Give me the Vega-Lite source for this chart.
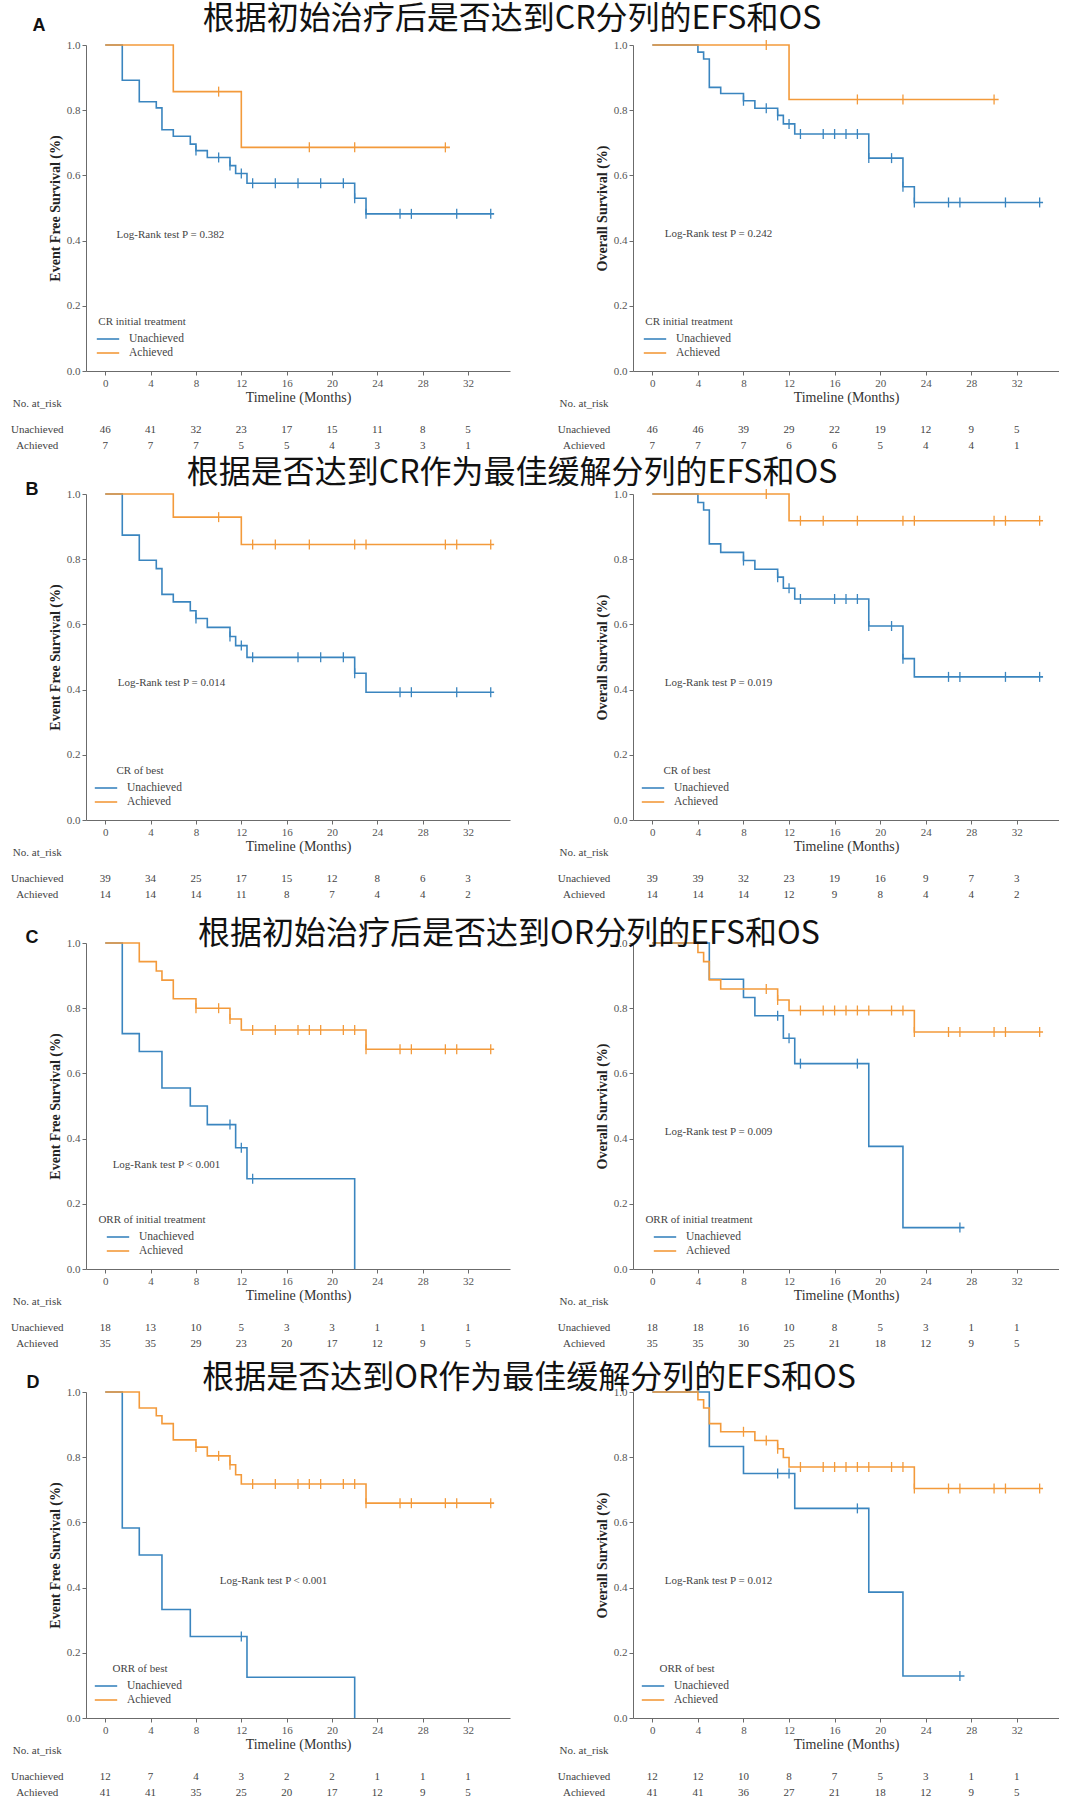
{
"$schema":"https://vega.github.io/schema/vega-lite/v6.json",
"padding":{"left":10,"top":2,"right":0,"bottom":0},
"bounds":"flush",
"columns":2,
"spacing":{"row":123,"column":123},
"resolve":{"scale":{"color":"independent","stroke":"independent","x":"independent","y":"independent"},"legend":{"color":"independent"}},
"config":{
 "view":{"stroke":null},
 "axis":{"domainColor":"#6b6b6b","tickColor":"#6b6b6b","tickSize":4,"labelFont":"Liberation Serif","labelFontSize":11,"labelColor":"#555","labelPadding":2,"grid":false,"titleFont":"Liberation Serif","titleColor":"#222"},
 "axisX":{"titleFontSize":14,"titleFontWeight":"normal","titlePadding":2,"titleColor":"#333"},
 "axisY":{"titleFontSize":14,"titleFontWeight":"bold","titlePadding":4},
 "legend":{"orient":"bottom-left","offset":12,"padding":0,"titleFont":"Liberation Serif","titleFontSize":11,"titleFontWeight":"normal","titleColor":"#444","titlePadding":4,"titleAnchor":"middle","labelFont":"Liberation Serif","labelFontSize":11.5,"labelColor":"#444","symbolStrokeWidth":1.6,"rowPadding":0},
 "text":{"font":"Liberation Serif","fontSize":11,"color":"#444","baseline":"middle","align":"center"}
},
"datasets":{
"km":[
{"p":"A1","g":"Unachieved","t":0,"s":1},{"p":"A1","g":"Unachieved","t":1.5,"s":0.892},{"p":"A1","g":"Unachieved","t":3,"s":0.826},{"p":"A1","g":"Unachieved","t":4.5,"s":0.807},{"p":"A1","g":"Unachieved","t":5,"s":0.74},{"p":"A1","g":"Unachieved","t":6,"s":0.72},{"p":"A1","g":"Unachieved","t":7.5,"s":0.696},{"p":"A1","g":"Unachieved","t":8,"s":0.676},{"p":"A1","g":"Unachieved","t":9,"s":0.655},{"p":"A1","g":"Unachieved","t":11,"s":0.63},{"p":"A1","g":"Unachieved","t":11.5,"s":0.606},{"p":"A1","g":"Unachieved","t":12.5,"s":0.576},{"p":"A1","g":"Unachieved","t":22,"s":0.53},{"p":"A1","g":"Unachieved","t":23,"s":0.482},{"p":"A1","g":"Unachieved","t":34.3,"s":0.482},
{"p":"A1","g":"Achieved","t":0,"s":1},{"p":"A1","g":"Achieved","t":6,"s":0.857},{"p":"A1","g":"Achieved","t":12,"s":0.686},{"p":"A1","g":"Achieved","t":30.4,"s":0.686},
{"p":"A2","g":"Unachieved","t":0,"s":1},{"p":"A2","g":"Unachieved","t":4,"s":0.978},{"p":"A2","g":"Unachieved","t":4.5,"s":0.957},{"p":"A2","g":"Unachieved","t":5,"s":0.87},{"p":"A2","g":"Unachieved","t":6,"s":0.851},{"p":"A2","g":"Unachieved","t":8,"s":0.829},{"p":"A2","g":"Unachieved","t":9,"s":0.806},{"p":"A2","g":"Unachieved","t":11,"s":0.784},{"p":"A2","g":"Unachieved","t":11.5,"s":0.758},{"p":"A2","g":"Unachieved","t":12.5,"s":0.727},{"p":"A2","g":"Unachieved","t":19,"s":0.653},{"p":"A2","g":"Unachieved","t":22,"s":0.565},{"p":"A2","g":"Unachieved","t":23,"s":0.517},{"p":"A2","g":"Unachieved","t":34.3,"s":0.517},
{"p":"A2","g":"Achieved","t":0,"s":1},{"p":"A2","g":"Achieved","t":12,"s":0.833},{"p":"A2","g":"Achieved","t":30.4,"s":0.833},
{"p":"B1","g":"Unachieved","t":0,"s":1},{"p":"B1","g":"Unachieved","t":1.5,"s":0.874},{"p":"B1","g":"Unachieved","t":3,"s":0.797},{"p":"B1","g":"Unachieved","t":4.5,"s":0.771},{"p":"B1","g":"Unachieved","t":5,"s":0.692},{"p":"B1","g":"Unachieved","t":6,"s":0.669},{"p":"B1","g":"Unachieved","t":7.5,"s":0.642},{"p":"B1","g":"Unachieved","t":8,"s":0.618},{"p":"B1","g":"Unachieved","t":9,"s":0.591},{"p":"B1","g":"Unachieved","t":11,"s":0.563},{"p":"B1","g":"Unachieved","t":11.5,"s":0.535},{"p":"B1","g":"Unachieved","t":12.5,"s":0.499},{"p":"B1","g":"Unachieved","t":22,"s":0.45},{"p":"B1","g":"Unachieved","t":23,"s":0.392},{"p":"B1","g":"Unachieved","t":34.3,"s":0.392},
{"p":"B1","g":"Achieved","t":0,"s":1},{"p":"B1","g":"Achieved","t":6,"s":0.929},{"p":"B1","g":"Achieved","t":12,"s":0.845},{"p":"B1","g":"Achieved","t":34.3,"s":0.845},
{"p":"B2","g":"Unachieved","t":0,"s":1},{"p":"B2","g":"Unachieved","t":4,"s":0.974},{"p":"B2","g":"Unachieved","t":4.5,"s":0.951},{"p":"B2","g":"Unachieved","t":5,"s":0.847},{"p":"B2","g":"Unachieved","t":6,"s":0.821},{"p":"B2","g":"Unachieved","t":8,"s":0.796},{"p":"B2","g":"Unachieved","t":9,"s":0.769},{"p":"B2","g":"Unachieved","t":11,"s":0.745},{"p":"B2","g":"Unachieved","t":11.5,"s":0.711},{"p":"B2","g":"Unachieved","t":12.5,"s":0.678},{"p":"B2","g":"Unachieved","t":19,"s":0.595},{"p":"B2","g":"Unachieved","t":22,"s":0.495},{"p":"B2","g":"Unachieved","t":23,"s":0.439},{"p":"B2","g":"Unachieved","t":34.3,"s":0.439},
{"p":"B2","g":"Achieved","t":0,"s":1},{"p":"B2","g":"Achieved","t":12,"s":0.918},{"p":"B2","g":"Achieved","t":34.3,"s":0.918},
{"p":"C1","g":"Unachieved","t":0,"s":1},{"p":"C1","g":"Unachieved","t":1.5,"s":0.722},{"p":"C1","g":"Unachieved","t":3,"s":0.667},{"p":"C1","g":"Unachieved","t":5,"s":0.555},{"p":"C1","g":"Unachieved","t":7.5,"s":0.5},{"p":"C1","g":"Unachieved","t":9,"s":0.443},{"p":"C1","g":"Unachieved","t":11.5,"s":0.372},{"p":"C1","g":"Unachieved","t":12.5,"s":0.277},{"p":"C1","g":"Unachieved","t":22,"s":0},
{"p":"C1","g":"Achieved","t":0,"s":1},{"p":"C1","g":"Achieved","t":3,"s":0.943},{"p":"C1","g":"Achieved","t":4.5,"s":0.914},{"p":"C1","g":"Achieved","t":5,"s":0.886},{"p":"C1","g":"Achieved","t":6,"s":0.829},{"p":"C1","g":"Achieved","t":8,"s":0.8},{"p":"C1","g":"Achieved","t":11,"s":0.767},{"p":"C1","g":"Achieved","t":12,"s":0.733},{"p":"C1","g":"Achieved","t":23,"s":0.674},{"p":"C1","g":"Achieved","t":34.3,"s":0.674},
{"p":"C2","g":"Unachieved","t":0,"s":1},{"p":"C2","g":"Unachieved","t":5,"s":0.889},{"p":"C2","g":"Unachieved","t":8,"s":0.833},{"p":"C2","g":"Unachieved","t":9,"s":0.777},{"p":"C2","g":"Unachieved","t":11.5,"s":0.708},{"p":"C2","g":"Unachieved","t":12.5,"s":0.63},{"p":"C2","g":"Unachieved","t":19,"s":0.376},{"p":"C2","g":"Unachieved","t":22,"s":0.127},{"p":"C2","g":"Unachieved","t":27.4,"s":0.127},
{"p":"C2","g":"Achieved","t":0,"s":1},{"p":"C2","g":"Achieved","t":4,"s":0.971},{"p":"C2","g":"Achieved","t":4.5,"s":0.943},{"p":"C2","g":"Achieved","t":5,"s":0.887},{"p":"C2","g":"Achieved","t":6,"s":0.859},{"p":"C2","g":"Achieved","t":11,"s":0.825},{"p":"C2","g":"Achieved","t":12,"s":0.793},{"p":"C2","g":"Achieved","t":23,"s":0.727},{"p":"C2","g":"Achieved","t":34.3,"s":0.727},
{"p":"D1","g":"Unachieved","t":0,"s":1},{"p":"D1","g":"Unachieved","t":1.5,"s":0.583},{"p":"D1","g":"Unachieved","t":3,"s":0.5},{"p":"D1","g":"Unachieved","t":5,"s":0.333},{"p":"D1","g":"Unachieved","t":7.5,"s":0.25},{"p":"D1","g":"Unachieved","t":12.5,"s":0.125},{"p":"D1","g":"Unachieved","t":22,"s":0},
{"p":"D1","g":"Achieved","t":0,"s":1},{"p":"D1","g":"Achieved","t":3,"s":0.951},{"p":"D1","g":"Achieved","t":4.5,"s":0.927},{"p":"D1","g":"Achieved","t":5,"s":0.903},{"p":"D1","g":"Achieved","t":6,"s":0.853},{"p":"D1","g":"Achieved","t":8,"s":0.831},{"p":"D1","g":"Achieved","t":9,"s":0.804},{"p":"D1","g":"Achieved","t":11,"s":0.777},{"p":"D1","g":"Achieved","t":11.5,"s":0.746},{"p":"D1","g":"Achieved","t":12,"s":0.718},{"p":"D1","g":"Achieved","t":23,"s":0.659},{"p":"D1","g":"Achieved","t":34.3,"s":0.659},
{"p":"D2","g":"Unachieved","t":0,"s":1},{"p":"D2","g":"Unachieved","t":5,"s":0.833},{"p":"D2","g":"Unachieved","t":8,"s":0.75},{"p":"D2","g":"Unachieved","t":12.5,"s":0.643},{"p":"D2","g":"Unachieved","t":19,"s":0.386},{"p":"D2","g":"Unachieved","t":22,"s":0.129},{"p":"D2","g":"Unachieved","t":27.4,"s":0.129},
{"p":"D2","g":"Achieved","t":0,"s":1},{"p":"D2","g":"Achieved","t":4,"s":0.976},{"p":"D2","g":"Achieved","t":4.5,"s":0.951},{"p":"D2","g":"Achieved","t":5,"s":0.903},{"p":"D2","g":"Achieved","t":6,"s":0.878},{"p":"D2","g":"Achieved","t":9,"s":0.851},{"p":"D2","g":"Achieved","t":11,"s":0.826},{"p":"D2","g":"Achieved","t":11.5,"s":0.799},{"p":"D2","g":"Achieved","t":12,"s":0.77},{"p":"D2","g":"Achieved","t":23,"s":0.704},{"p":"D2","g":"Achieved","t":34.3,"s":0.704}
],
"cens":[
{"p":"A1","g":"Unachieved","t":8,"s":0.676},{"p":"A1","g":"Unachieved","t":10,"s":0.655},{"p":"A1","g":"Unachieved","t":11,"s":0.63},{"p":"A1","g":"Unachieved","t":12,"s":0.606},{"p":"A1","g":"Unachieved","t":13,"s":0.576},{"p":"A1","g":"Unachieved","t":15,"s":0.576},{"p":"A1","g":"Unachieved","t":17,"s":0.576},{"p":"A1","g":"Unachieved","t":19,"s":0.576},{"p":"A1","g":"Unachieved","t":21,"s":0.576},{"p":"A1","g":"Unachieved","t":22,"s":0.53},{"p":"A1","g":"Unachieved","t":23,"s":0.482},{"p":"A1","g":"Unachieved","t":26,"s":0.482},{"p":"A1","g":"Unachieved","t":27,"s":0.482},{"p":"A1","g":"Unachieved","t":31,"s":0.482},{"p":"A1","g":"Unachieved","t":34,"s":0.482},
{"p":"A1","g":"Achieved","t":10,"s":0.857},{"p":"A1","g":"Achieved","t":18,"s":0.686},{"p":"A1","g":"Achieved","t":22,"s":0.686},{"p":"A1","g":"Achieved","t":30,"s":0.686},
{"p":"A2","g":"Unachieved","t":8,"s":0.829},{"p":"A2","g":"Unachieved","t":10,"s":0.806},{"p":"A2","g":"Unachieved","t":11,"s":0.784},{"p":"A2","g":"Unachieved","t":12,"s":0.758},{"p":"A2","g":"Unachieved","t":13,"s":0.727},{"p":"A2","g":"Unachieved","t":15,"s":0.727},{"p":"A2","g":"Unachieved","t":16,"s":0.727},{"p":"A2","g":"Unachieved","t":17,"s":0.727},{"p":"A2","g":"Unachieved","t":18,"s":0.727},{"p":"A2","g":"Unachieved","t":19,"s":0.653},{"p":"A2","g":"Unachieved","t":21,"s":0.653},{"p":"A2","g":"Unachieved","t":22,"s":0.565},{"p":"A2","g":"Unachieved","t":23,"s":0.517},{"p":"A2","g":"Unachieved","t":26,"s":0.517},{"p":"A2","g":"Unachieved","t":27,"s":0.517},{"p":"A2","g":"Unachieved","t":31,"s":0.517},{"p":"A2","g":"Unachieved","t":34,"s":0.517},
{"p":"A2","g":"Achieved","t":10,"s":1},{"p":"A2","g":"Achieved","t":18,"s":0.833},{"p":"A2","g":"Achieved","t":22,"s":0.833},{"p":"A2","g":"Achieved","t":30,"s":0.833},
{"p":"B1","g":"Unachieved","t":8,"s":0.618},{"p":"B1","g":"Unachieved","t":11,"s":0.563},{"p":"B1","g":"Unachieved","t":12,"s":0.535},{"p":"B1","g":"Unachieved","t":13,"s":0.499},{"p":"B1","g":"Unachieved","t":17,"s":0.499},{"p":"B1","g":"Unachieved","t":19,"s":0.499},{"p":"B1","g":"Unachieved","t":21,"s":0.499},{"p":"B1","g":"Unachieved","t":22,"s":0.45},{"p":"B1","g":"Unachieved","t":26,"s":0.392},{"p":"B1","g":"Unachieved","t":27,"s":0.392},{"p":"B1","g":"Unachieved","t":31,"s":0.392},{"p":"B1","g":"Unachieved","t":34,"s":0.392},
{"p":"B1","g":"Achieved","t":10,"s":0.929},{"p":"B1","g":"Achieved","t":13,"s":0.845},{"p":"B1","g":"Achieved","t":15,"s":0.845},{"p":"B1","g":"Achieved","t":18,"s":0.845},{"p":"B1","g":"Achieved","t":22,"s":0.845},{"p":"B1","g":"Achieved","t":23,"s":0.845},{"p":"B1","g":"Achieved","t":30,"s":0.845},{"p":"B1","g":"Achieved","t":31,"s":0.845},{"p":"B1","g":"Achieved","t":34,"s":0.845},
{"p":"B2","g":"Unachieved","t":8,"s":0.796},{"p":"B2","g":"Unachieved","t":11,"s":0.745},{"p":"B2","g":"Unachieved","t":12,"s":0.711},{"p":"B2","g":"Unachieved","t":13,"s":0.678},{"p":"B2","g":"Unachieved","t":16,"s":0.678},{"p":"B2","g":"Unachieved","t":17,"s":0.678},{"p":"B2","g":"Unachieved","t":18,"s":0.678},{"p":"B2","g":"Unachieved","t":19,"s":0.595},{"p":"B2","g":"Unachieved","t":21,"s":0.595},{"p":"B2","g":"Unachieved","t":22,"s":0.495},{"p":"B2","g":"Unachieved","t":26,"s":0.439},{"p":"B2","g":"Unachieved","t":27,"s":0.439},{"p":"B2","g":"Unachieved","t":31,"s":0.439},{"p":"B2","g":"Unachieved","t":34,"s":0.439},
{"p":"B2","g":"Achieved","t":10,"s":1},{"p":"B2","g":"Achieved","t":13,"s":0.918},{"p":"B2","g":"Achieved","t":15,"s":0.918},{"p":"B2","g":"Achieved","t":18,"s":0.918},{"p":"B2","g":"Achieved","t":22,"s":0.918},{"p":"B2","g":"Achieved","t":23,"s":0.918},{"p":"B2","g":"Achieved","t":30,"s":0.918},{"p":"B2","g":"Achieved","t":31,"s":0.918},{"p":"B2","g":"Achieved","t":34,"s":0.918},
{"p":"C1","g":"Unachieved","t":11,"s":0.443},{"p":"C1","g":"Unachieved","t":12,"s":0.372},{"p":"C1","g":"Unachieved","t":13,"s":0.277},
{"p":"C1","g":"Achieved","t":8,"s":0.8},{"p":"C1","g":"Achieved","t":10,"s":0.8},{"p":"C1","g":"Achieved","t":11,"s":0.767},{"p":"C1","g":"Achieved","t":13,"s":0.733},{"p":"C1","g":"Achieved","t":15,"s":0.733},{"p":"C1","g":"Achieved","t":17,"s":0.733},{"p":"C1","g":"Achieved","t":18,"s":0.733},{"p":"C1","g":"Achieved","t":19,"s":0.733},{"p":"C1","g":"Achieved","t":21,"s":0.733},{"p":"C1","g":"Achieved","t":22,"s":0.733},{"p":"C1","g":"Achieved","t":23,"s":0.674},{"p":"C1","g":"Achieved","t":26,"s":0.674},{"p":"C1","g":"Achieved","t":27,"s":0.674},{"p":"C1","g":"Achieved","t":30,"s":0.674},{"p":"C1","g":"Achieved","t":31,"s":0.674},{"p":"C1","g":"Achieved","t":34,"s":0.674},
{"p":"C2","g":"Unachieved","t":11,"s":0.777},{"p":"C2","g":"Unachieved","t":12,"s":0.708},{"p":"C2","g":"Unachieved","t":13,"s":0.63},{"p":"C2","g":"Unachieved","t":18,"s":0.63},{"p":"C2","g":"Unachieved","t":27,"s":0.127},
{"p":"C2","g":"Achieved","t":10,"s":0.859},{"p":"C2","g":"Achieved","t":11,"s":0.825},{"p":"C2","g":"Achieved","t":13,"s":0.793},{"p":"C2","g":"Achieved","t":15,"s":0.793},{"p":"C2","g":"Achieved","t":16,"s":0.793},{"p":"C2","g":"Achieved","t":17,"s":0.793},{"p":"C2","g":"Achieved","t":18,"s":0.793},{"p":"C2","g":"Achieved","t":19,"s":0.793},{"p":"C2","g":"Achieved","t":21,"s":0.793},{"p":"C2","g":"Achieved","t":22,"s":0.793},{"p":"C2","g":"Achieved","t":23,"s":0.727},{"p":"C2","g":"Achieved","t":26,"s":0.727},{"p":"C2","g":"Achieved","t":27,"s":0.727},{"p":"C2","g":"Achieved","t":30,"s":0.727},{"p":"C2","g":"Achieved","t":31,"s":0.727},{"p":"C2","g":"Achieved","t":34,"s":0.727},
{"p":"D1","g":"Unachieved","t":12,"s":0.25},
{"p":"D1","g":"Achieved","t":8,"s":0.831},{"p":"D1","g":"Achieved","t":10,"s":0.804},{"p":"D1","g":"Achieved","t":11,"s":0.777},{"p":"D1","g":"Achieved","t":13,"s":0.718},{"p":"D1","g":"Achieved","t":15,"s":0.718},{"p":"D1","g":"Achieved","t":17,"s":0.718},{"p":"D1","g":"Achieved","t":18,"s":0.718},{"p":"D1","g":"Achieved","t":19,"s":0.718},{"p":"D1","g":"Achieved","t":21,"s":0.718},{"p":"D1","g":"Achieved","t":22,"s":0.718},{"p":"D1","g":"Achieved","t":23,"s":0.659},{"p":"D1","g":"Achieved","t":26,"s":0.659},{"p":"D1","g":"Achieved","t":27,"s":0.659},{"p":"D1","g":"Achieved","t":30,"s":0.659},{"p":"D1","g":"Achieved","t":31,"s":0.659},{"p":"D1","g":"Achieved","t":34,"s":0.659},
{"p":"D2","g":"Unachieved","t":11,"s":0.75},{"p":"D2","g":"Unachieved","t":12,"s":0.75},{"p":"D2","g":"Unachieved","t":18,"s":0.643},{"p":"D2","g":"Unachieved","t":27,"s":0.129},
{"p":"D2","g":"Achieved","t":8,"s":0.878},{"p":"D2","g":"Achieved","t":10,"s":0.851},{"p":"D2","g":"Achieved","t":11,"s":0.826},{"p":"D2","g":"Achieved","t":13,"s":0.77},{"p":"D2","g":"Achieved","t":15,"s":0.77},{"p":"D2","g":"Achieved","t":16,"s":0.77},{"p":"D2","g":"Achieved","t":17,"s":0.77},{"p":"D2","g":"Achieved","t":18,"s":0.77},{"p":"D2","g":"Achieved","t":19,"s":0.77},{"p":"D2","g":"Achieved","t":21,"s":0.77},{"p":"D2","g":"Achieved","t":22,"s":0.77},{"p":"D2","g":"Achieved","t":23,"s":0.704},{"p":"D2","g":"Achieved","t":26,"s":0.704},{"p":"D2","g":"Achieved","t":27,"s":0.704},{"p":"D2","g":"Achieved","t":30,"s":0.704},{"p":"D2","g":"Achieved","t":31,"s":0.704},{"p":"D2","g":"Achieved","t":34,"s":0.704}
],
"risk":[
{"p":"A1","g":"Unachieved","t":0,"n":46},{"p":"A1","g":"Unachieved","t":4,"n":41},{"p":"A1","g":"Unachieved","t":8,"n":32},{"p":"A1","g":"Unachieved","t":12,"n":23},{"p":"A1","g":"Unachieved","t":16,"n":17},{"p":"A1","g":"Unachieved","t":20,"n":15},{"p":"A1","g":"Unachieved","t":24,"n":11},{"p":"A1","g":"Unachieved","t":28,"n":8},{"p":"A1","g":"Unachieved","t":32,"n":5},
{"p":"A1","g":"Achieved","t":0,"n":7},{"p":"A1","g":"Achieved","t":4,"n":7},{"p":"A1","g":"Achieved","t":8,"n":7},{"p":"A1","g":"Achieved","t":12,"n":5},{"p":"A1","g":"Achieved","t":16,"n":5},{"p":"A1","g":"Achieved","t":20,"n":4},{"p":"A1","g":"Achieved","t":24,"n":3},{"p":"A1","g":"Achieved","t":28,"n":3},{"p":"A1","g":"Achieved","t":32,"n":1},
{"p":"A2","g":"Unachieved","t":0,"n":46},{"p":"A2","g":"Unachieved","t":4,"n":46},{"p":"A2","g":"Unachieved","t":8,"n":39},{"p":"A2","g":"Unachieved","t":12,"n":29},{"p":"A2","g":"Unachieved","t":16,"n":22},{"p":"A2","g":"Unachieved","t":20,"n":19},{"p":"A2","g":"Unachieved","t":24,"n":12},{"p":"A2","g":"Unachieved","t":28,"n":9},{"p":"A2","g":"Unachieved","t":32,"n":5},
{"p":"A2","g":"Achieved","t":0,"n":7},{"p":"A2","g":"Achieved","t":4,"n":7},{"p":"A2","g":"Achieved","t":8,"n":7},{"p":"A2","g":"Achieved","t":12,"n":6},{"p":"A2","g":"Achieved","t":16,"n":6},{"p":"A2","g":"Achieved","t":20,"n":5},{"p":"A2","g":"Achieved","t":24,"n":4},{"p":"A2","g":"Achieved","t":28,"n":4},{"p":"A2","g":"Achieved","t":32,"n":1},
{"p":"B1","g":"Unachieved","t":0,"n":39},{"p":"B1","g":"Unachieved","t":4,"n":34},{"p":"B1","g":"Unachieved","t":8,"n":25},{"p":"B1","g":"Unachieved","t":12,"n":17},{"p":"B1","g":"Unachieved","t":16,"n":15},{"p":"B1","g":"Unachieved","t":20,"n":12},{"p":"B1","g":"Unachieved","t":24,"n":8},{"p":"B1","g":"Unachieved","t":28,"n":6},{"p":"B1","g":"Unachieved","t":32,"n":3},
{"p":"B1","g":"Achieved","t":0,"n":14},{"p":"B1","g":"Achieved","t":4,"n":14},{"p":"B1","g":"Achieved","t":8,"n":14},{"p":"B1","g":"Achieved","t":12,"n":11},{"p":"B1","g":"Achieved","t":16,"n":8},{"p":"B1","g":"Achieved","t":20,"n":7},{"p":"B1","g":"Achieved","t":24,"n":4},{"p":"B1","g":"Achieved","t":28,"n":4},{"p":"B1","g":"Achieved","t":32,"n":2},
{"p":"B2","g":"Unachieved","t":0,"n":39},{"p":"B2","g":"Unachieved","t":4,"n":39},{"p":"B2","g":"Unachieved","t":8,"n":32},{"p":"B2","g":"Unachieved","t":12,"n":23},{"p":"B2","g":"Unachieved","t":16,"n":19},{"p":"B2","g":"Unachieved","t":20,"n":16},{"p":"B2","g":"Unachieved","t":24,"n":9},{"p":"B2","g":"Unachieved","t":28,"n":7},{"p":"B2","g":"Unachieved","t":32,"n":3},
{"p":"B2","g":"Achieved","t":0,"n":14},{"p":"B2","g":"Achieved","t":4,"n":14},{"p":"B2","g":"Achieved","t":8,"n":14},{"p":"B2","g":"Achieved","t":12,"n":12},{"p":"B2","g":"Achieved","t":16,"n":9},{"p":"B2","g":"Achieved","t":20,"n":8},{"p":"B2","g":"Achieved","t":24,"n":4},{"p":"B2","g":"Achieved","t":28,"n":4},{"p":"B2","g":"Achieved","t":32,"n":2},
{"p":"C1","g":"Unachieved","t":0,"n":18},{"p":"C1","g":"Unachieved","t":4,"n":13},{"p":"C1","g":"Unachieved","t":8,"n":10},{"p":"C1","g":"Unachieved","t":12,"n":5},{"p":"C1","g":"Unachieved","t":16,"n":3},{"p":"C1","g":"Unachieved","t":20,"n":3},{"p":"C1","g":"Unachieved","t":24,"n":1},{"p":"C1","g":"Unachieved","t":28,"n":1},{"p":"C1","g":"Unachieved","t":32,"n":1},
{"p":"C1","g":"Achieved","t":0,"n":35},{"p":"C1","g":"Achieved","t":4,"n":35},{"p":"C1","g":"Achieved","t":8,"n":29},{"p":"C1","g":"Achieved","t":12,"n":23},{"p":"C1","g":"Achieved","t":16,"n":20},{"p":"C1","g":"Achieved","t":20,"n":17},{"p":"C1","g":"Achieved","t":24,"n":12},{"p":"C1","g":"Achieved","t":28,"n":9},{"p":"C1","g":"Achieved","t":32,"n":5},
{"p":"C2","g":"Unachieved","t":0,"n":18},{"p":"C2","g":"Unachieved","t":4,"n":18},{"p":"C2","g":"Unachieved","t":8,"n":16},{"p":"C2","g":"Unachieved","t":12,"n":10},{"p":"C2","g":"Unachieved","t":16,"n":8},{"p":"C2","g":"Unachieved","t":20,"n":5},{"p":"C2","g":"Unachieved","t":24,"n":3},{"p":"C2","g":"Unachieved","t":28,"n":1},{"p":"C2","g":"Unachieved","t":32,"n":1},
{"p":"C2","g":"Achieved","t":0,"n":35},{"p":"C2","g":"Achieved","t":4,"n":35},{"p":"C2","g":"Achieved","t":8,"n":30},{"p":"C2","g":"Achieved","t":12,"n":25},{"p":"C2","g":"Achieved","t":16,"n":21},{"p":"C2","g":"Achieved","t":20,"n":18},{"p":"C2","g":"Achieved","t":24,"n":12},{"p":"C2","g":"Achieved","t":28,"n":9},{"p":"C2","g":"Achieved","t":32,"n":5},
{"p":"D1","g":"Unachieved","t":0,"n":12},{"p":"D1","g":"Unachieved","t":4,"n":7},{"p":"D1","g":"Unachieved","t":8,"n":4},{"p":"D1","g":"Unachieved","t":12,"n":3},{"p":"D1","g":"Unachieved","t":16,"n":2},{"p":"D1","g":"Unachieved","t":20,"n":2},{"p":"D1","g":"Unachieved","t":24,"n":1},{"p":"D1","g":"Unachieved","t":28,"n":1},{"p":"D1","g":"Unachieved","t":32,"n":1},
{"p":"D1","g":"Achieved","t":0,"n":41},{"p":"D1","g":"Achieved","t":4,"n":41},{"p":"D1","g":"Achieved","t":8,"n":35},{"p":"D1","g":"Achieved","t":12,"n":25},{"p":"D1","g":"Achieved","t":16,"n":20},{"p":"D1","g":"Achieved","t":20,"n":17},{"p":"D1","g":"Achieved","t":24,"n":12},{"p":"D1","g":"Achieved","t":28,"n":9},{"p":"D1","g":"Achieved","t":32,"n":5},
{"p":"D2","g":"Unachieved","t":0,"n":12},{"p":"D2","g":"Unachieved","t":4,"n":12},{"p":"D2","g":"Unachieved","t":8,"n":10},{"p":"D2","g":"Unachieved","t":12,"n":8},{"p":"D2","g":"Unachieved","t":16,"n":7},{"p":"D2","g":"Unachieved","t":20,"n":5},{"p":"D2","g":"Unachieved","t":24,"n":3},{"p":"D2","g":"Unachieved","t":28,"n":1},{"p":"D2","g":"Unachieved","t":32,"n":1},
{"p":"D2","g":"Achieved","t":0,"n":41},{"p":"D2","g":"Achieved","t":4,"n":41},{"p":"D2","g":"Achieved","t":8,"n":36},{"p":"D2","g":"Achieved","t":12,"n":27},{"p":"D2","g":"Achieved","t":16,"n":21},{"p":"D2","g":"Achieved","t":20,"n":18},{"p":"D2","g":"Achieved","t":24,"n":12},{"p":"D2","g":"Achieved","t":28,"n":9},{"p":"D2","g":"Achieved","t":32,"n":5}
]
},
"concat":[
 {"width":424,"height":326,"layer":[
  {"data":{"name":"km"},"transform":[{"filter":"datum.p==='A1'"}],"mark":{"type":"line","interpolate":"step-after","strokeWidth":1.6},"encoding":{"x":{"field":"t","type":"quantitative","scale":{"domain":[-1.7,35.7],"nice":false,"zero":false},"axis":{"title":"Timeline (Months)","values":[0,4,8,12,16,20,24,28,32]}},"y":{"field":"s","type":"quantitative","scale":{"domain":[0,1],"nice":false,"zero":false},"axis":{"title":"Event Free Survival (%)","values":[0,0.2,0.4,0.6,0.8,1],"format":".1f"}},"color":{"field":"g","type":"nominal","scale":{"domain":["Unachieved","Achieved"],"range":["#3a85bf","#f39a3b"]},"legend":{"title":"CR initial treatment","symbolType":"M-1.6,0L1.6,0","symbolSize":196,"labelOffset":13}}}},
  {"data":{"name":"cens"},"transform":[{"filter":"datum.p==='A1'"}],"mark":{"type":"point","shape":"M0,-1L0,1","filled":false,"size":100,"strokeWidth":1.3,"opacity":1},"encoding":{"x":{"field":"t","type":"quantitative"},"y":{"field":"s","type":"quantitative"},"stroke":{"field":"g","type":"nominal","scale":{"domain":["Unachieved","Achieved"],"range":["#3a85bf","#f39a3b"]},"legend":null}}},
  {"data":{"name":"risk"},"transform":[{"filter":"datum.p==='A1' && datum.g==='Unachieved'"}],"mark":{"type":"text"},"encoding":{"x":{"field":"t","type":"quantitative"},"y":{"datum":-0.181},"text":{"field":"n","type":"quantitative"}}},
  {"data":{"name":"risk"},"transform":[{"filter":"datum.p==='A1' && datum.g==='Achieved'"}],"mark":{"type":"text"},"encoding":{"x":{"field":"t","type":"quantitative"},"y":{"datum":-0.23},"text":{"field":"n","type":"quantitative"}}},
  {"data":{"values":[{}]},"mark":{"type":"text"},"encoding":{"x":{"datum":-6},"y":{"datum":-0.101},"text":{"value":"No. at_risk"}}},
  {"data":{"values":[{}]},"mark":{"type":"text"},"encoding":{"x":{"datum":-6},"y":{"datum":-0.181},"text":{"value":"Unachieved"}}},
  {"data":{"values":[{}]},"mark":{"type":"text"},"encoding":{"x":{"datum":-6},"y":{"datum":-0.23},"text":{"value":"Achieved"}}},
  {"data":{"values":[{}]},"mark":{"type":"text","align":"left"},"encoding":{"x":{"datum":1.0},"y":{"datum":0.417},"text":{"value":"Log-Rank test P = 0.382"}}},
  {"data":{"values":[{}]},"mark":{"type":"text","font":"Liberation Sans","fontWeight":"bold","fontSize":18,"color":"#111"},"encoding":{"x":{"datum":-5.85},"y":{"datum":1.058},"text":{"value":"A"}}}
 ]},
 {"width":426,"height":326,"layer":[
  {"data":{"name":"km"},"transform":[{"filter":"datum.p==='A2'"}],"mark":{"type":"line","interpolate":"step-after","strokeWidth":1.6},"encoding":{"x":{"field":"t","type":"quantitative","scale":{"domain":[-1.7,35.7],"nice":false,"zero":false},"axis":{"title":"Timeline (Months)","values":[0,4,8,12,16,20,24,28,32]}},"y":{"field":"s","type":"quantitative","scale":{"domain":[0,1],"nice":false,"zero":false},"axis":{"title":"Overall Survival (%)","values":[0,0.2,0.4,0.6,0.8,1],"format":".1f"}},"color":{"field":"g","type":"nominal","scale":{"domain":["Unachieved","Achieved"],"range":["#3a85bf","#f39a3b"]},"legend":{"title":"CR initial treatment","symbolType":"M-1.6,0L1.6,0","symbolSize":196,"labelOffset":13}}}},
  {"data":{"name":"cens"},"transform":[{"filter":"datum.p==='A2'"}],"mark":{"type":"point","shape":"M0,-1L0,1","filled":false,"size":100,"strokeWidth":1.3,"opacity":1},"encoding":{"x":{"field":"t","type":"quantitative"},"y":{"field":"s","type":"quantitative"},"stroke":{"field":"g","type":"nominal","scale":{"domain":["Unachieved","Achieved"],"range":["#3a85bf","#f39a3b"]},"legend":null}}},
  {"data":{"name":"risk"},"transform":[{"filter":"datum.p==='A2' && datum.g==='Unachieved'"}],"mark":{"type":"text"},"encoding":{"x":{"field":"t","type":"quantitative"},"y":{"datum":-0.181},"text":{"field":"n","type":"quantitative"}}},
  {"data":{"name":"risk"},"transform":[{"filter":"datum.p==='A2' && datum.g==='Achieved'"}],"mark":{"type":"text"},"encoding":{"x":{"field":"t","type":"quantitative"},"y":{"datum":-0.23},"text":{"field":"n","type":"quantitative"}}},
  {"data":{"values":[{}]},"mark":{"type":"text"},"encoding":{"x":{"datum":-6},"y":{"datum":-0.101},"text":{"value":"No. at_risk"}}},
  {"data":{"values":[{}]},"mark":{"type":"text"},"encoding":{"x":{"datum":-6},"y":{"datum":-0.181},"text":{"value":"Unachieved"}}},
  {"data":{"values":[{}]},"mark":{"type":"text"},"encoding":{"x":{"datum":-6},"y":{"datum":-0.23},"text":{"value":"Achieved"}}},
  {"data":{"values":[{}]},"mark":{"type":"text","align":"left"},"encoding":{"x":{"datum":1.08},"y":{"datum":0.419},"text":{"value":"Log-Rank test P = 0.242"}}},
  {"data":{"values":[{}]},"mark":{"type":"text","font":"Noto Sans CJK SC","fontSize":32,"color":"#111"},"encoding":{"x":{"datum":-12.32},"y":{"datum":1.08},"text":{"value":"根据初始治疗后是否达到CR分列的EFS和OS"}}}
 ]},
 {"width":424,"height":326,"layer":[
  {"data":{"name":"km"},"transform":[{"filter":"datum.p==='B1'"}],"mark":{"type":"line","interpolate":"step-after","strokeWidth":1.6},"encoding":{"x":{"field":"t","type":"quantitative","scale":{"domain":[-1.7,35.7],"nice":false,"zero":false},"axis":{"title":"Timeline (Months)","values":[0,4,8,12,16,20,24,28,32]}},"y":{"field":"s","type":"quantitative","scale":{"domain":[0,1],"nice":false,"zero":false},"axis":{"title":"Event Free Survival (%)","values":[0,0.2,0.4,0.6,0.8,1],"format":".1f"}},"color":{"field":"g","type":"nominal","scale":{"domain":["Unachieved","Achieved"],"range":["#3a85bf","#f39a3b"]},"legend":{"title":"CR of best","symbolType":"M-1.6,0L1.6,0","symbolSize":196,"labelOffset":13}}}},
  {"data":{"name":"cens"},"transform":[{"filter":"datum.p==='B1'"}],"mark":{"type":"point","shape":"M0,-1L0,1","filled":false,"size":100,"strokeWidth":1.3,"opacity":1},"encoding":{"x":{"field":"t","type":"quantitative"},"y":{"field":"s","type":"quantitative"},"stroke":{"field":"g","type":"nominal","scale":{"domain":["Unachieved","Achieved"],"range":["#3a85bf","#f39a3b"]},"legend":null}}},
  {"data":{"name":"risk"},"transform":[{"filter":"datum.p==='B1' && datum.g==='Unachieved'"}],"mark":{"type":"text"},"encoding":{"x":{"field":"t","type":"quantitative"},"y":{"datum":-0.181},"text":{"field":"n","type":"quantitative"}}},
  {"data":{"name":"risk"},"transform":[{"filter":"datum.p==='B1' && datum.g==='Achieved'"}],"mark":{"type":"text"},"encoding":{"x":{"field":"t","type":"quantitative"},"y":{"datum":-0.23},"text":{"field":"n","type":"quantitative"}}},
  {"data":{"values":[{}]},"mark":{"type":"text"},"encoding":{"x":{"datum":-6},"y":{"datum":-0.101},"text":{"value":"No. at_risk"}}},
  {"data":{"values":[{}]},"mark":{"type":"text"},"encoding":{"x":{"datum":-6},"y":{"datum":-0.181},"text":{"value":"Unachieved"}}},
  {"data":{"values":[{}]},"mark":{"type":"text"},"encoding":{"x":{"datum":-6},"y":{"datum":-0.23},"text":{"value":"Achieved"}}},
  {"data":{"values":[{}]},"mark":{"type":"text","align":"left"},"encoding":{"x":{"datum":1.1},"y":{"datum":0.421},"text":{"value":"Log-Rank test P = 0.014"}}},
  {"data":{"values":[{}]},"mark":{"type":"text","font":"Liberation Sans","fontWeight":"bold","fontSize":18,"color":"#111"},"encoding":{"x":{"datum":-6.47},"y":{"datum":1.012},"text":{"value":"B"}}}
 ]},
 {"width":426,"height":326,"layer":[
  {"data":{"name":"km"},"transform":[{"filter":"datum.p==='B2'"}],"mark":{"type":"line","interpolate":"step-after","strokeWidth":1.6},"encoding":{"x":{"field":"t","type":"quantitative","scale":{"domain":[-1.7,35.7],"nice":false,"zero":false},"axis":{"title":"Timeline (Months)","values":[0,4,8,12,16,20,24,28,32]}},"y":{"field":"s","type":"quantitative","scale":{"domain":[0,1],"nice":false,"zero":false},"axis":{"title":"Overall Survival (%)","values":[0,0.2,0.4,0.6,0.8,1],"format":".1f"}},"color":{"field":"g","type":"nominal","scale":{"domain":["Unachieved","Achieved"],"range":["#3a85bf","#f39a3b"]},"legend":{"title":"CR of best","symbolType":"M-1.6,0L1.6,0","symbolSize":196,"labelOffset":13}}}},
  {"data":{"name":"cens"},"transform":[{"filter":"datum.p==='B2'"}],"mark":{"type":"point","shape":"M0,-1L0,1","filled":false,"size":100,"strokeWidth":1.3,"opacity":1},"encoding":{"x":{"field":"t","type":"quantitative"},"y":{"field":"s","type":"quantitative"},"stroke":{"field":"g","type":"nominal","scale":{"domain":["Unachieved","Achieved"],"range":["#3a85bf","#f39a3b"]},"legend":null}}},
  {"data":{"name":"risk"},"transform":[{"filter":"datum.p==='B2' && datum.g==='Unachieved'"}],"mark":{"type":"text"},"encoding":{"x":{"field":"t","type":"quantitative"},"y":{"datum":-0.181},"text":{"field":"n","type":"quantitative"}}},
  {"data":{"name":"risk"},"transform":[{"filter":"datum.p==='B2' && datum.g==='Achieved'"}],"mark":{"type":"text"},"encoding":{"x":{"field":"t","type":"quantitative"},"y":{"datum":-0.23},"text":{"field":"n","type":"quantitative"}}},
  {"data":{"values":[{}]},"mark":{"type":"text"},"encoding":{"x":{"datum":-6},"y":{"datum":-0.101},"text":{"value":"No. at_risk"}}},
  {"data":{"values":[{}]},"mark":{"type":"text"},"encoding":{"x":{"datum":-6},"y":{"datum":-0.181},"text":{"value":"Unachieved"}}},
  {"data":{"values":[{}]},"mark":{"type":"text"},"encoding":{"x":{"datum":-6},"y":{"datum":-0.23},"text":{"value":"Achieved"}}},
  {"data":{"values":[{}]},"mark":{"type":"text","align":"left"},"encoding":{"x":{"datum":1.08},"y":{"datum":0.419},"text":{"value":"Log-Rank test P = 0.019"}}},
  {"data":{"values":[{}]},"mark":{"type":"text","font":"Noto Sans CJK SC","fontSize":32,"color":"#111"},"encoding":{"x":{"datum":-12.32},"y":{"datum":1.064},"text":{"value":"根据是否达到CR作为最佳缓解分列的EFS和OS"}}}
 ]},
 {"width":424,"height":326,"layer":[
  {"data":{"name":"km"},"transform":[{"filter":"datum.p==='C1'"}],"mark":{"type":"line","interpolate":"step-after","strokeWidth":1.6},"encoding":{"x":{"field":"t","type":"quantitative","scale":{"domain":[-1.7,35.7],"nice":false,"zero":false},"axis":{"title":"Timeline (Months)","values":[0,4,8,12,16,20,24,28,32]}},"y":{"field":"s","type":"quantitative","scale":{"domain":[0,1],"nice":false,"zero":false},"axis":{"title":"Event Free Survival (%)","values":[0,0.2,0.4,0.6,0.8,1],"format":".1f"}},"color":{"field":"g","type":"nominal","scale":{"domain":["Unachieved","Achieved"],"range":["#3a85bf","#f39a3b"]},"legend":{"title":"ORR of initial treatment","symbolType":"M-1.6,0L1.6,0","symbolSize":196,"labelOffset":13}}}},
  {"data":{"name":"cens"},"transform":[{"filter":"datum.p==='C1'"}],"mark":{"type":"point","shape":"M0,-1L0,1","filled":false,"size":100,"strokeWidth":1.3,"opacity":1},"encoding":{"x":{"field":"t","type":"quantitative"},"y":{"field":"s","type":"quantitative"},"stroke":{"field":"g","type":"nominal","scale":{"domain":["Unachieved","Achieved"],"range":["#3a85bf","#f39a3b"]},"legend":null}}},
  {"data":{"name":"risk"},"transform":[{"filter":"datum.p==='C1' && datum.g==='Unachieved'"}],"mark":{"type":"text"},"encoding":{"x":{"field":"t","type":"quantitative"},"y":{"datum":-0.181},"text":{"field":"n","type":"quantitative"}}},
  {"data":{"name":"risk"},"transform":[{"filter":"datum.p==='C1' && datum.g==='Achieved'"}],"mark":{"type":"text"},"encoding":{"x":{"field":"t","type":"quantitative"},"y":{"datum":-0.23},"text":{"field":"n","type":"quantitative"}}},
  {"data":{"values":[{}]},"mark":{"type":"text"},"encoding":{"x":{"datum":-6},"y":{"datum":-0.101},"text":{"value":"No. at_risk"}}},
  {"data":{"values":[{}]},"mark":{"type":"text"},"encoding":{"x":{"datum":-6},"y":{"datum":-0.181},"text":{"value":"Unachieved"}}},
  {"data":{"values":[{}]},"mark":{"type":"text"},"encoding":{"x":{"datum":-6},"y":{"datum":-0.23},"text":{"value":"Achieved"}}},
  {"data":{"values":[{}]},"mark":{"type":"text","align":"left"},"encoding":{"x":{"datum":0.65},"y":{"datum":0.32},"text":{"value":"Log-Rank test P < 0.001"}}},
  {"data":{"values":[{}]},"mark":{"type":"text","font":"Liberation Sans","fontWeight":"bold","fontSize":18,"color":"#111"},"encoding":{"x":{"datum":-6.47},"y":{"datum":1.015},"text":{"value":"C"}}}
 ]},
 {"width":426,"height":326,"layer":[
  {"data":{"name":"km"},"transform":[{"filter":"datum.p==='C2'"}],"mark":{"type":"line","interpolate":"step-after","strokeWidth":1.6},"encoding":{"x":{"field":"t","type":"quantitative","scale":{"domain":[-1.7,35.7],"nice":false,"zero":false},"axis":{"title":"Timeline (Months)","values":[0,4,8,12,16,20,24,28,32]}},"y":{"field":"s","type":"quantitative","scale":{"domain":[0,1],"nice":false,"zero":false},"axis":{"title":"Overall Survival (%)","values":[0,0.2,0.4,0.6,0.8,1],"format":".1f"}},"color":{"field":"g","type":"nominal","scale":{"domain":["Unachieved","Achieved"],"range":["#3a85bf","#f39a3b"]},"legend":{"title":"ORR of initial treatment","symbolType":"M-1.6,0L1.6,0","symbolSize":196,"labelOffset":13}}}},
  {"data":{"name":"cens"},"transform":[{"filter":"datum.p==='C2'"}],"mark":{"type":"point","shape":"M0,-1L0,1","filled":false,"size":100,"strokeWidth":1.3,"opacity":1},"encoding":{"x":{"field":"t","type":"quantitative"},"y":{"field":"s","type":"quantitative"},"stroke":{"field":"g","type":"nominal","scale":{"domain":["Unachieved","Achieved"],"range":["#3a85bf","#f39a3b"]},"legend":null}}},
  {"data":{"name":"risk"},"transform":[{"filter":"datum.p==='C2' && datum.g==='Unachieved'"}],"mark":{"type":"text"},"encoding":{"x":{"field":"t","type":"quantitative"},"y":{"datum":-0.181},"text":{"field":"n","type":"quantitative"}}},
  {"data":{"name":"risk"},"transform":[{"filter":"datum.p==='C2' && datum.g==='Achieved'"}],"mark":{"type":"text"},"encoding":{"x":{"field":"t","type":"quantitative"},"y":{"datum":-0.23},"text":{"field":"n","type":"quantitative"}}},
  {"data":{"values":[{}]},"mark":{"type":"text"},"encoding":{"x":{"datum":-6},"y":{"datum":-0.101},"text":{"value":"No. at_risk"}}},
  {"data":{"values":[{}]},"mark":{"type":"text"},"encoding":{"x":{"datum":-6},"y":{"datum":-0.181},"text":{"value":"Unachieved"}}},
  {"data":{"values":[{}]},"mark":{"type":"text"},"encoding":{"x":{"datum":-6},"y":{"datum":-0.23},"text":{"value":"Achieved"}}},
  {"data":{"values":[{}]},"mark":{"type":"text","align":"left"},"encoding":{"x":{"datum":1.08},"y":{"datum":0.42},"text":{"value":"Log-Rank test P = 0.009"}}},
  {"data":{"values":[{}]},"mark":{"type":"text","font":"Noto Sans CJK SC","fontSize":32,"color":"#111"},"encoding":{"x":{"datum":-12.59},"y":{"datum":1.028},"text":{"value":"根据初始治疗后是否达到OR分列的EFS和OS"}}}
 ]},
 {"width":424,"height":326,"layer":[
  {"data":{"name":"km"},"transform":[{"filter":"datum.p==='D1'"}],"mark":{"type":"line","interpolate":"step-after","strokeWidth":1.6},"encoding":{"x":{"field":"t","type":"quantitative","scale":{"domain":[-1.7,35.7],"nice":false,"zero":false},"axis":{"title":"Timeline (Months)","values":[0,4,8,12,16,20,24,28,32]}},"y":{"field":"s","type":"quantitative","scale":{"domain":[0,1],"nice":false,"zero":false},"axis":{"title":"Event Free Survival (%)","values":[0,0.2,0.4,0.6,0.8,1],"format":".1f"}},"color":{"field":"g","type":"nominal","scale":{"domain":["Unachieved","Achieved"],"range":["#3a85bf","#f39a3b"]},"legend":{"title":"ORR of best","symbolType":"M-1.6,0L1.6,0","symbolSize":196,"labelOffset":13}}}},
  {"data":{"name":"cens"},"transform":[{"filter":"datum.p==='D1'"}],"mark":{"type":"point","shape":"M0,-1L0,1","filled":false,"size":100,"strokeWidth":1.3,"opacity":1},"encoding":{"x":{"field":"t","type":"quantitative"},"y":{"field":"s","type":"quantitative"},"stroke":{"field":"g","type":"nominal","scale":{"domain":["Unachieved","Achieved"],"range":["#3a85bf","#f39a3b"]},"legend":null}}},
  {"data":{"name":"risk"},"transform":[{"filter":"datum.p==='D1' && datum.g==='Unachieved'"}],"mark":{"type":"text"},"encoding":{"x":{"field":"t","type":"quantitative"},"y":{"datum":-0.181},"text":{"field":"n","type":"quantitative"}}},
  {"data":{"name":"risk"},"transform":[{"filter":"datum.p==='D1' && datum.g==='Achieved'"}],"mark":{"type":"text"},"encoding":{"x":{"field":"t","type":"quantitative"},"y":{"datum":-0.23},"text":{"field":"n","type":"quantitative"}}},
  {"data":{"values":[{}]},"mark":{"type":"text"},"encoding":{"x":{"datum":-6},"y":{"datum":-0.101},"text":{"value":"No. at_risk"}}},
  {"data":{"values":[{}]},"mark":{"type":"text"},"encoding":{"x":{"datum":-6},"y":{"datum":-0.181},"text":{"value":"Unachieved"}}},
  {"data":{"values":[{}]},"mark":{"type":"text"},"encoding":{"x":{"datum":-6},"y":{"datum":-0.23},"text":{"value":"Achieved"}}},
  {"data":{"values":[{}]},"mark":{"type":"text","align":"left"},"encoding":{"x":{"datum":10.1},"y":{"datum":0.421},"text":{"value":"Log-Rank test P < 0.001"}}},
  {"data":{"values":[{}]},"mark":{"type":"text","font":"Liberation Sans","fontWeight":"bold","fontSize":18,"color":"#111"},"encoding":{"x":{"datum":-6.38},"y":{"datum":1.028},"text":{"value":"D"}}}
 ]},
 {"width":426,"height":326,"layer":[
  {"data":{"name":"km"},"transform":[{"filter":"datum.p==='D2'"}],"mark":{"type":"line","interpolate":"step-after","strokeWidth":1.6},"encoding":{"x":{"field":"t","type":"quantitative","scale":{"domain":[-1.7,35.7],"nice":false,"zero":false},"axis":{"title":"Timeline (Months)","values":[0,4,8,12,16,20,24,28,32]}},"y":{"field":"s","type":"quantitative","scale":{"domain":[0,1],"nice":false,"zero":false},"axis":{"title":"Overall Survival (%)","values":[0,0.2,0.4,0.6,0.8,1],"format":".1f"}},"color":{"field":"g","type":"nominal","scale":{"domain":["Unachieved","Achieved"],"range":["#3a85bf","#f39a3b"]},"legend":{"title":"ORR of best","symbolType":"M-1.6,0L1.6,0","symbolSize":196,"labelOffset":13}}}},
  {"data":{"name":"cens"},"transform":[{"filter":"datum.p==='D2'"}],"mark":{"type":"point","shape":"M0,-1L0,1","filled":false,"size":100,"strokeWidth":1.3,"opacity":1},"encoding":{"x":{"field":"t","type":"quantitative"},"y":{"field":"s","type":"quantitative"},"stroke":{"field":"g","type":"nominal","scale":{"domain":["Unachieved","Achieved"],"range":["#3a85bf","#f39a3b"]},"legend":null}}},
  {"data":{"name":"risk"},"transform":[{"filter":"datum.p==='D2' && datum.g==='Unachieved'"}],"mark":{"type":"text"},"encoding":{"x":{"field":"t","type":"quantitative"},"y":{"datum":-0.181},"text":{"field":"n","type":"quantitative"}}},
  {"data":{"name":"risk"},"transform":[{"filter":"datum.p==='D2' && datum.g==='Achieved'"}],"mark":{"type":"text"},"encoding":{"x":{"field":"t","type":"quantitative"},"y":{"datum":-0.23},"text":{"field":"n","type":"quantitative"}}},
  {"data":{"values":[{}]},"mark":{"type":"text"},"encoding":{"x":{"datum":-6},"y":{"datum":-0.101},"text":{"value":"No. at_risk"}}},
  {"data":{"values":[{}]},"mark":{"type":"text"},"encoding":{"x":{"datum":-6},"y":{"datum":-0.181},"text":{"value":"Unachieved"}}},
  {"data":{"values":[{}]},"mark":{"type":"text"},"encoding":{"x":{"datum":-6},"y":{"datum":-0.23},"text":{"value":"Achieved"}}},
  {"data":{"values":[{}]},"mark":{"type":"text","align":"left"},"encoding":{"x":{"datum":1.08},"y":{"datum":0.419},"text":{"value":"Log-Rank test P = 0.012"}}},
  {"data":{"values":[{}]},"mark":{"type":"text","font":"Noto Sans CJK SC","fontSize":32,"color":"#111"},"encoding":{"x":{"datum":-10.83},"y":{"datum":1.043},"text":{"value":"根据是否达到OR作为最佳缓解分列的EFS和OS"}}}
 ]}
]
}
